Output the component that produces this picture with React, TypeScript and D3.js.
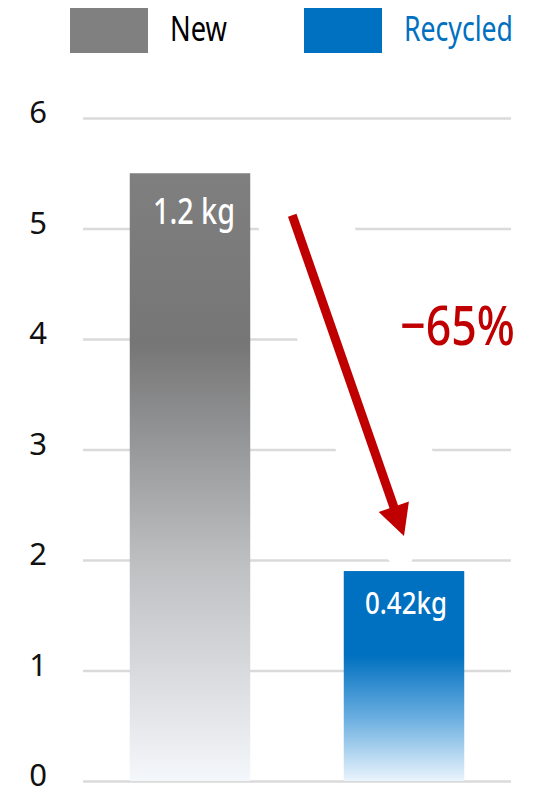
import React, { useEffect, useRef } from 'react';
import * as d3 from 'd3';

const categories = ['New', 'Recycled'];
const values = [5.5, 1.9];
const valueLabels = ['1.2 kg', '0.42kg'];
const yTicks = [0, 1, 2, 3, 4, 5, 6];
const legendLabels = ['New', 'Recycled'];
const changeLabel = '\u221265%';

const FONT = '"Noto Sans", "Open Sans", sans-serif';
const GRAY = '#808080';
const BLUE = '#0070c0';
const RED = '#c00000';

export default function App() {
  const svgRef = useRef<SVGSVGElement>(null);

  useEffect(() => {
    if (!svgRef.current) return;
    document.body.style.margin = '0';

    const W = 543;
    const H = 792;
    const margin = { top: 118, right: 32, bottom: 11, left: 83 };
    const width = W - margin.left - margin.right;
    const height = H - margin.top - margin.bottom;

    const svg = d3.select(svgRef.current);
    svg.selectAll('*').remove();

    // squeeze a text to a given width with a horizontal scale
    const fitWidth = (sel: d3.Selection<SVGTextElement, any, any, any>, x0: number, y0: number, target: number) => {
      const natural = (sel.node() as SVGTextElement).getComputedTextLength() || target;
      sel.attr('x', 0).attr('y', 0)
        .attr('transform', `translate(${x0},${y0}) scale(${target / natural},1)`);
    };

    // gradients for the bars
    const defs = svg.append('defs');
    const gradNew = defs.append('linearGradient')
      .attr('id', 'grad-new')
      .attr('x1', 0).attr('y1', 0).attr('x2', 0).attr('y2', 1);
    [
      [0, '#7f7f7f'], [0.28, '#767676'], [0.46, '#999a9c'],
      [0.64, '#bebfc1'], [0.82, '#d8dadd'], [1, '#f4f7fb'],
    ].forEach(([o, c]) => gradNew.append('stop').attr('offset', o as number).attr('stop-color', c as string));

    const gradRec = defs.append('linearGradient')
      .attr('id', 'grad-rec')
      .attr('x1', 0).attr('y1', 0).attr('x2', 0).attr('y2', 1);
    [
      [0, BLUE], [0.4, BLUE], [0.7, '#6aaee0'], [1, '#eaf4fc'],
    ].forEach(([o, c]) => gradRec.append('stop').attr('offset', o as number).attr('stop-color', c as string));

    const fills = ['url(#grad-new)', 'url(#grad-rec)'];

    const g = svg.append('g').attr('transform', `translate(${margin.left},${margin.top})`);

    const x = d3.scaleBand<string>()
      .domain(categories)
      .range([0, width])
      .paddingInner(0.437)
      .paddingOuter(0.2185);

    const y = d3.scaleLinear().domain([0, 6]).range([height, 0]);

    // Y axis with gridlines
    const yAxis = g.append('g')
      .call(d3.axisLeft(y).tickValues(yTicks).tickSize(-width).tickFormat(d3.format('d')));
    yAxis.select('.domain').remove();
    yAxis.attr('font-family', FONT).attr('font-size', 31);
    yAxis.selectAll('.tick line').attr('stroke', '#dadada').attr('stroke-width', 2.5);
    yAxis.selectAll('.tick text')
      .attr('x', -45)
      .attr('dy', '0.16em')
      .attr('text-anchor', 'middle')
      .attr('fill', '#111');

    const bw = x.bandwidth();

    // arrow geometry, anchored to the bars
    const sx = (x('New') as number) + bw + 42;
    const sy = y(values[0]) + 42;
    const tx = (x('Recycled') as number) + bw / 2;
    const ty = y(values[1]) - 35;
    const len = Math.hypot(tx - sx, ty - sy);
    const ux = (tx - sx) / len;
    const uy = (ty - sy) / len;
    const nx = -uy;
    const ny = ux;
    const bx = tx - ux * 31;
    const by = ty - uy * 31;

    // white halo under the arrow that breaks the gridlines
    g.append('line')
      .attr('x1', sx - ux * 10 + 10).attr('y1', sy - uy * 10)
      .attr('x2', bx + 10).attr('y2', by)
      .attr('stroke', '#fff').attr('stroke-width', 91);
    g.append('polygon')
      .attr('points', [[tx, ty + 45], [tx - 55, ty - 30], [tx + 35, ty - 45]].map(p => p.join(',')).join(' '))
      .attr('fill', '#fff');

    // white box behind the change label
    g.append('rect')
      .attr('x', width - 119).attr('y', y(4) - 39)
      .attr('width', 135).attr('height', 52)
      .attr('fill', '#fff');

    // bars
    g.selectAll('.bar')
      .data(values)
      .enter()
      .append('rect')
      .attr('class', 'bar')
      .attr('x', (d, i) => x(categories[i]) as number)
      .attr('y', d => y(d))
      .attr('width', bw)
      .attr('height', d => height - y(d))
      .attr('fill', (d, i) => fills[i]);

    // value labels inside bars
    const labelSize = [36, 30];
    const labelOffset = [51, 43];
    const labelShift = [4, 2];
    values.forEach((v, i) => {
      const t = g.append('text')
        .attr('font-family', FONT)
        .attr('font-size', labelSize[i])
        .attr('font-weight', 500)
        .attr('fill', '#fff')
        .text(valueLabels[i]);
      fitWidth(t, (x(categories[i]) as number) + bw / 2 + labelShift[i] - 41, y(v) + labelOffset[i], 82);
    });

    // arrow
    g.append('line')
      .attr('x1', sx).attr('y1', sy)
      .attr('x2', bx + ux * 2).attr('y2', by + uy * 2)
      .attr('stroke', RED).attr('stroke-width', 9);
    g.append('polygon')
      .attr('points', [[tx, ty], [bx + nx * 16, by + ny * 16], [bx - nx * 16, by - ny * 16]].map(p => p.join(',')).join(' '))
      .attr('fill', RED);

    // change label
    const ch = g.append('text')
      .attr('font-family', FONT)
      .attr('font-size', 55)
      .attr('font-weight', 500)
      .attr('fill', RED)
      .text(changeLabel);
    fitWidth(ch, width + 4 - 115, y(4) + 6, 115);

    // legend
    const legendX = [70, 304];
    const legendColors = [GRAY, BLUE];
    const legendTextColors = ['#000', BLUE];
    const legendTextLen = [57, 109];
    const legend = svg.append('g');
    legendLabels.forEach((lab, i) => {
      legend.append('rect')
        .attr('x', legendX[i]).attr('y', 8)
        .attr('width', 78).attr('height', 45)
        .attr('fill', legendColors[i]);
      const t = legend.append('text')
        .attr('font-family', FONT)
        .attr('font-size', 35)
        .attr('fill', legendTextColors[i])
        .text(lab);
      fitWidth(t, legendX[i] + 100, 41, legendTextLen[i]);
    });
  }, []);

  return <svg ref={svgRef} width={543} height={792} style={{ display: 'block' }} />;
}
